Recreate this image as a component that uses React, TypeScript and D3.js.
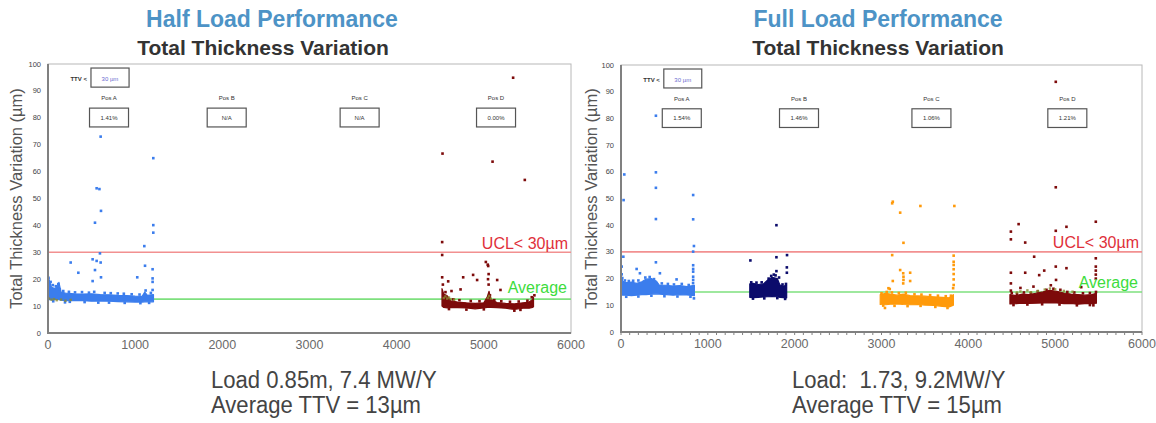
import React from "react";
import * as d3 from "d3";

// ---- data ----
const xTicks = [0, 1000, 2000, 3000, 4000, 5000, 6000];
const yTicks = [0, 10, 20, 30, 40, 50, 60, 70, 80, 90, 100];
const posLabels = ["Pos A", "Pos B", "Pos C", "Pos D"];
const posCenters = [700, 2050, 3575, 5140];
const halfYield = ["1.41%", "N/A", "N/A", "0.00%"];
const fullYield = ["1.54%", "1.46%", "1.06%", "1.21%"];
const ucl = 30;
const halfAverage = 12.6;
const fullAverage = 15;

type Band = [number, number, number][]; // x, low, high
type Pts = [number, number][];

// Half load, Pos A
const halfPosABand: Band = [
  [0, 12.0, 22.0], [15, 12.5, 19.5], [40, 12.3, 17.0], [80, 12.5, 16.5], [110, 12.6, 17.5],
  [125, 12.4, 18.8], [150, 12.2, 15.2], [200, 12.0, 14.8], [300, 12.1, 14.6], [400, 12.0, 14.5],
  [500, 11.8, 14.6], [600, 11.9, 14.3], [700, 11.8, 14.2], [800, 11.7, 14.0], [900, 11.6, 13.9],
  [1000, 11.5, 13.7], [1080, 11.5, 13.6], [1110, 11.6, 15.2], [1140, 11.6, 14.0], [1210, 11.6, 14.3],
];
const halfPosAPoints: Pts = [
  [604, 73], [558, 53.8], [590, 53.5], [608, 45.4], [539, 41], [1208, 65], [1208, 40.1], [1208, 37.3],
  [1105, 32.3], [596, 29.6], [512, 27.4], [558, 26.8], [604, 26.2], [260, 26.2], [348, 22.4], [539, 23.4],
  [608, 20.7], [512, 19.3], [1024, 20.7], [1113, 25], [1200, 23.7], [1200, 20.3], [1200, 19], [1200, 16],
  [577, 11.3], [195, 11.4],
  [5, 20.5], [10, 18.5], [30, 19.0], [55, 17.8], [90, 17.4], [118, 18.2], [135, 16.2], [175, 15.6],
  [240, 15.3], [310, 15.1], [390, 15.2], [470, 15.0], [530, 15.3], [650, 14.9], [720, 14.8], [800, 14.7],
  [870, 14.6], [960, 14.4], [1050, 14.3], [1120, 15.8], [1180, 14.9], [60, 11.8], [250, 11.6],
  [420, 11.5], [700, 11.3], [880, 11.2], [1060, 11.1], [1160, 11.2],
];
const halfGreenPoints: Pts = [
  [10, 12.8], [40, 12.4], [70, 12.6], [100, 12.2], [150, 12.4], [200, 12.0], [260, 12.3],
  [4540, 13.0], [4560, 13.6], [4580, 12.8], [4600, 13.2], [4620, 12.6], [4660, 12.4],
  [5045, 13.0], [5060, 13.8], [5080, 12.8],
];
// Half load, Pos D
const halfPosDBand: Band = [
  [4520, 10.0, 16.5], [4540, 9.5, 14.5], [4580, 9.3, 13.8], [4620, 9.5, 12.0], [4700, 9.4, 11.5],
  [4800, 9.3, 11.2], [4900, 9.0, 11.0], [5000, 9.3, 11.2], [5040, 9.5, 13.5], [5060, 9.6, 15.5],
  [5080, 9.5, 12.5], [5150, 9.4, 11.3], [5250, 9.2, 11.0], [5350, 8.8, 10.8], [5450, 9.2, 11.2],
  [5520, 9.2, 11.5], [5560, 9.5, 12.5], [5570, 9.8, 13.2],
];
const halfPosDPoints: Pts = [
  [4526, 66.7], [5100, 63.7], [5470, 56.9], [5336, 94.9], [4522, 33.8], [4522, 29], [4522, 20.7],
  [4591, 19.2], [4763, 20.7], [4877, 21.6], [4923, 19.7], [4733, 16.2], [4629, 15.6], [5023, 26.4],
  [5045, 25.4], [5050, 24.9], [5055, 21.9], [5048, 20], [5055, 18], [5153, 19.7], [5191, 16], [5580, 14],
  [4530, 18], [4560, 15.2], [4650, 12.5], [4720, 12.2], [4850, 11.9], [4950, 11.8], [5070, 14.0],
  [5120, 12.2], [5200, 11.8], [5300, 11.6], [5400, 11.7], [5500, 12.0], [5550, 13.3], [4600, 8.9],
  [4800, 8.7], [5000, 8.8], [5350, 8.3], [5420, 8.6],
];

// Full load
const fullPosABand: Band = [
  [0, 14.0, 21.5], [20, 13.8, 19.0], [60, 13.8, 18.5], [120, 13.6, 18.7], [180, 13.8, 18.2],
  [240, 14.0, 18.8], [290, 14.0, 19.8], [350, 14.2, 20.0], [410, 14.3, 19.0], [440, 14.2, 17.6],
  [520, 14.0, 17.5], [600, 13.8, 17.2], [680, 14.0, 17.4], [760, 13.9, 17.0], [845, 13.6, 17.5],
];
const fullPosAPoints: Pts = [
  [38, 59], [30, 49.4], [402, 81], [402, 59.8], [402, 54], [831, 51.3], [402, 42.3], [831, 42.2],
  [840, 32.2], [831, 30.1], [27, 28.2], [402, 26.1], [831, 25], [831, 23.6], [831, 22.6], [180, 23.6],
  [448, 22], [218, 22], [831, 20.7], [831, 19.5], [640, 19.7], [8, 24.5], [8, 21.6], [840, 12.6],
  [15, 20.2], [45, 19.3], [90, 19.1], [140, 19.2], [200, 19.3], [280, 20.4], [330, 20.6], [380, 19.8],
  [470, 18.2], [540, 18.0], [610, 17.8], [700, 18.0], [780, 17.6], [830, 18.3], [60, 13.2], [200, 13.3],
  [350, 13.6], [500, 13.4], [650, 13.3], [800, 13.2],
];
const fullPosBBand: Band = [
  [1483, 13.0, 18.0], [1520, 12.9, 18.2], [1580, 13.0, 17.8], [1640, 13.1, 18.0], [1690, 13.2, 19.5],
  [1740, 13.3, 20.5], [1800, 13.2, 20.0], [1830, 13.0, 17.6], [1870, 12.9, 17.2], [1908, 12.8, 17.5],
];
const fullPosBPoints: Pts = [
  [1490, 26.8], [1790, 40], [1790, 28], [1790, 22.8], [1912, 28.8], [1910, 24.2], [1910, 22.2],
  [1760, 21.5], [1780, 21.2], [1500, 18.6], [1560, 18.5], [1620, 18.6], [1700, 20.0], [1730, 21.0],
  [1820, 20.4], [1860, 17.8], [1900, 18.0], [1520, 12.5], [1650, 12.6], [1800, 12.7], [1890, 12.4],
];
const fullPosCBand: Band = [
  [2985, 10.3, 14.0], [3050, 10.2, 14.5], [3100, 10.4, 14.2], [3180, 10.5, 13.8], [3250, 10.3, 14.2],
  [3330, 10.2, 13.6], [3420, 10.3, 13.5], [3500, 10.1, 13.4], [3600, 10.0, 13.2], [3700, 9.6, 13.0],
  [3780, 9.4, 12.8], [3828, 10.0, 14.0],
];
const fullPosCPoints: Pts = [
  [3123, 48.2], [3130, 48.8], [3215, 44.7], [3448, 47.2], [3839, 47.2], [3253, 33.4], [3123, 28.8],
  [3215, 23.2], [3250, 22], [3253, 20.7], [3253, 19.5], [3250, 18.2], [3330, 22.2], [3330, 19.1],
  [3130, 19.1], [3080, 16.4], [3095, 16.1], [3831, 28.6], [3831, 26.3], [3831, 25.1], [3831, 23.5],
  [3831, 21.7], [3831, 19.7], [3831, 17.6], [3825, 16.4], [3040, 9.0],
  [3000, 14.5], [3060, 15.0], [3120, 14.8], [3200, 14.6], [3280, 14.7], [3380, 14.1], [3460, 14.0],
  [3560, 13.8], [3650, 13.6], [3740, 13.4], [3800, 13.6], [3020, 9.9], [3150, 9.8], [3300, 9.7],
  [3450, 9.8], [3620, 9.4], [3760, 9.0],
];
const fullPosDBand: Band = [
  [4479, 10.5, 14.0], [4550, 10.6, 13.6], [4620, 10.8, 14.2], [4700, 10.7, 14.0], [4780, 10.8, 14.5],
  [4860, 10.9, 15.0], [4940, 11.0, 15.6], [5020, 10.9, 15.2], [5100, 10.6, 14.6], [5180, 10.7, 14.2],
  [5260, 10.4, 14.0], [5340, 10.6, 13.8], [5420, 10.6, 14.0], [5475, 10.8, 14.5],
];
const fullPosDPoints: Pts = [
  [5007, 93.7], [5007, 54.2], [4490, 37.6], [4579, 40.4], [4490, 34.7], [4655, 33.5], [5007, 37.9],
  [5130, 39.4], [5468, 41.3], [4758, 28.2], [5468, 27.6], [5468, 24.5], [5468, 23], [5468, 21.5],
  [5468, 20], [4490, 22.2], [4490, 18.2], [4655, 22.2], [4816, 21.3], [4874, 23], [5007, 24.5],
  [5130, 23.9], [5010, 19.5], [4600, 16.5], [4750, 17], [4490, 15.5], [4950, 17.5], [5300, 16.8],
  [5440, 10], [4500, 14.6], [4560, 14.3], [4640, 14.8], [4720, 14.6], [4800, 15.2], [4900, 15.8],
  [4980, 16.2], [5060, 15.8], [5140, 15.0], [5220, 14.8], [5320, 14.5], [5400, 14.6], [5470, 15.0],
  [4520, 10.1], [4680, 10.3], [4850, 10.4], [5050, 10.3], [5250, 10.0], [5400, 10.1],
];
const fullGreenPoints: Pts = [
  [4560, 14.8], [4600, 15.2], [4680, 15.6], [4720, 14.9], [4800, 15.4], [4880, 15.9], [4940, 16.3],
  [5000, 16.0], [5100, 15.4], [5200, 15.1],
];

const BLUE = "#3b7ded";
const NAVY = "#0b0b6b";
const ORANGE = "#ff9a0a";
const DARKRED = "#7d0a0a";
const OLIVE = "#8a8a30";

type Series = { band: Band; points: Pts; color: string };

type PanelProps = {
  left: number;
  right: number;
  top: number;
  bottom: number;
  series: Series[];
  extra: Pts;
  average: number;
  yields: string[];
  minorTicks: boolean;
  labelX: number;
  uclBase: number;
  avgBase: number;
};

function Panel(p: PanelProps) {
  const x = d3.scaleLinear().domain([0, 6000]).range([p.left, p.right]);
  const y = d3.scaleLinear().domain([0, 100]).range([p.bottom, p.top]);
  const area = d3
    .area<[number, number, number]>()
    .x((d) => x(d[0]))
    .y0((d) => y(d[1]))
    .y1((d) => y(d[2]));
  const minor = d3.range(0, 6001, 100);
  const boxW = 39;
  return (
    <g>
      <rect x={p.left} y={p.top} width={p.right - p.left} height={p.bottom - p.top}
        fill="#fff" stroke="#b8b8b8" strokeWidth={1} />
      <line x1={p.left} x2={p.right} y1={y(ucl)} y2={y(ucl)} stroke="#f29090" strokeWidth={1.6} />
      <line x1={p.left} x2={p.right} y1={y(p.average)} y2={y(p.average)} stroke="#7ee07e" strokeWidth={1.6} />
      {p.series.map((s, i) => (
        <g key={i}>
          <path d={area(s.band) || ""} fill={s.color} stroke={s.color} strokeWidth={1.2} strokeLinejoin="round" />
          {s.points.map((d, j) => (
            <rect key={j} x={x(d[0]) - 1.3} y={y(d[1]) - 1.3} width={2.6} height={2.6} fill={s.color} />
          ))}
        </g>
      ))}
      {p.extra.map((d, j) => (
        <rect key={j} x={x(d[0]) - 1.2} y={y(d[1]) - 1.2} width={2.4} height={2.4} fill={OLIVE} opacity={0.8} />
      ))}
      {/* axes */}
      <line x1={p.left} x2={p.left} y1={p.top} y2={p.bottom + 1} stroke="#808080" strokeWidth={2} />
      <line x1={p.left - 1} x2={p.right} y1={p.bottom} y2={p.bottom} stroke="#808080" strokeWidth={2} />
      {p.minorTicks &&
        minor.map((t) => (
          <line key={t} x1={x(t)} x2={x(t)} y1={p.bottom} y2={p.bottom + 3} stroke="#808080" strokeWidth={1} />
        ))}
      {yTicks.map((t) => (
        <text key={t} x={p.left - 7} y={y(t) + 2.5} textAnchor="end" fontSize={7.5} fill="#444">{t}</text>
      ))}
      {xTicks.map((t) => (
        <text key={t} x={x(t)} y={p.bottom + 16} textAnchor="middle" fontSize={12.5} fill="#6a6a6a">{t}</text>
      ))}
      <text transform={`translate(${p.labelX},${(p.top + p.bottom) / 2}) rotate(-90)`} textAnchor="middle"
        fontSize={16.5} fill="#555">Total Thickness Variation (µm)</text>
      {/* TTV annotation */}
      <text x={x(447)} y={y(94.4) + 2} textAnchor="end" fontSize={6} fontWeight="bold" fill="#333">TTV &lt;</text>
      <rect x={x(493)} y={y(98.5)} width={x(930) - x(493)} height={y(91.4) - y(98.5)}
        fill="#fff" stroke="#555" strokeWidth={1.2} />
      <text x={x(711)} y={y(94.4) + 2} textAnchor="middle" fontSize={6} fill="#6a6ad0">30 µm</text>
      {posLabels.map((lab, i) => (
        <g key={lab}>
          <text x={x(posCenters[i])} y={y(87.4) + 2} textAnchor="middle" fontSize={6} fill="#333">{lab}</text>
          <rect x={x(posCenters[i]) - boxW / 2} y={y(83.6)} width={boxW} height={y(76.6) - y(83.6)}
            fill="#fff" stroke="#555" strokeWidth={1.2} />
          <text x={x(posCenters[i])} y={y(80.1) + 2} textAnchor="middle" fontSize={6} fill="#333">{p.yields[i]}</text>
        </g>
      ))}
      <text x={p.right - 3} y={p.uclBase} textAnchor="end" fontSize={16} fill="#e0303a">UCL&lt; 30µm</text>
      <text x={p.right - 4} y={p.avgBase} textAnchor="end" fontSize={16} fill="#3ddc3d">Average</text>
    </g>
  );
}

function Caption({ x, lines }: { x: number; lines: string[] }) {
  return (
    <g fontSize={23} fill="#444">
      {lines.map((s, i) => (
        <text key={i} transform={`translate(${x},${388 + i * 25}) scale(0.96,1)`} style={{ whiteSpace: "pre" }}>{s}</text>
      ))}
    </g>
  );
}

export default function App() {
  return (
    <svg width={1156} height={423} style={{ position: "absolute", left: 0, top: 0, background: "#fff" }}
      fontFamily="'Liberation Sans', Arial, sans-serif">
      <text x={272} y={27} textAnchor="middle" fontSize={23} fontWeight="bold" fill="#4d93c6">Half Load Performance</text>
      <text x={263} y={55} textAnchor="middle" fontSize={21} fontWeight="bold" fill="#333">Total Thickness Variation</text>
      <text x={878} y={27} textAnchor="middle" fontSize={23} fontWeight="bold" fill="#4d93c6">Full Load Performance</text>
      <text x={878} y={55} textAnchor="middle" fontSize={21} fontWeight="bold" fill="#333">Total Thickness Variation</text>
      <Panel left={48} right={571} top={64} bottom={333} labelX={22} average={halfAverage} yields={halfYield}
        minorTicks={false} extra={halfGreenPoints} uclBase={249} avgBase={293}
        series={[
          { band: halfPosABand, points: halfPosAPoints, color: BLUE },
          { band: halfPosDBand, points: halfPosDPoints, color: DARKRED },
        ]} />
      <Panel left={621} right={1142} top={65} bottom={332} labelX={597} average={fullAverage} yields={fullYield}
        minorTicks={true} extra={fullGreenPoints} uclBase={248} avgBase={288}
        series={[
          { band: fullPosABand, points: fullPosAPoints, color: BLUE },
          { band: fullPosBBand, points: fullPosBPoints, color: NAVY },
          { band: fullPosCBand, points: fullPosCPoints, color: ORANGE },
          { band: fullPosDBand, points: fullPosDPoints, color: DARKRED },
        ]} />
      <Caption x={211} lines={["Load 0.85m, 7.4 MW/Y", "Average TTV = 13µm"]} />
      <Caption x={792} lines={["Load:  1.73, 9.2MW/Y", "Average TTV = 15µm"]} />
    </svg>
  );
}
